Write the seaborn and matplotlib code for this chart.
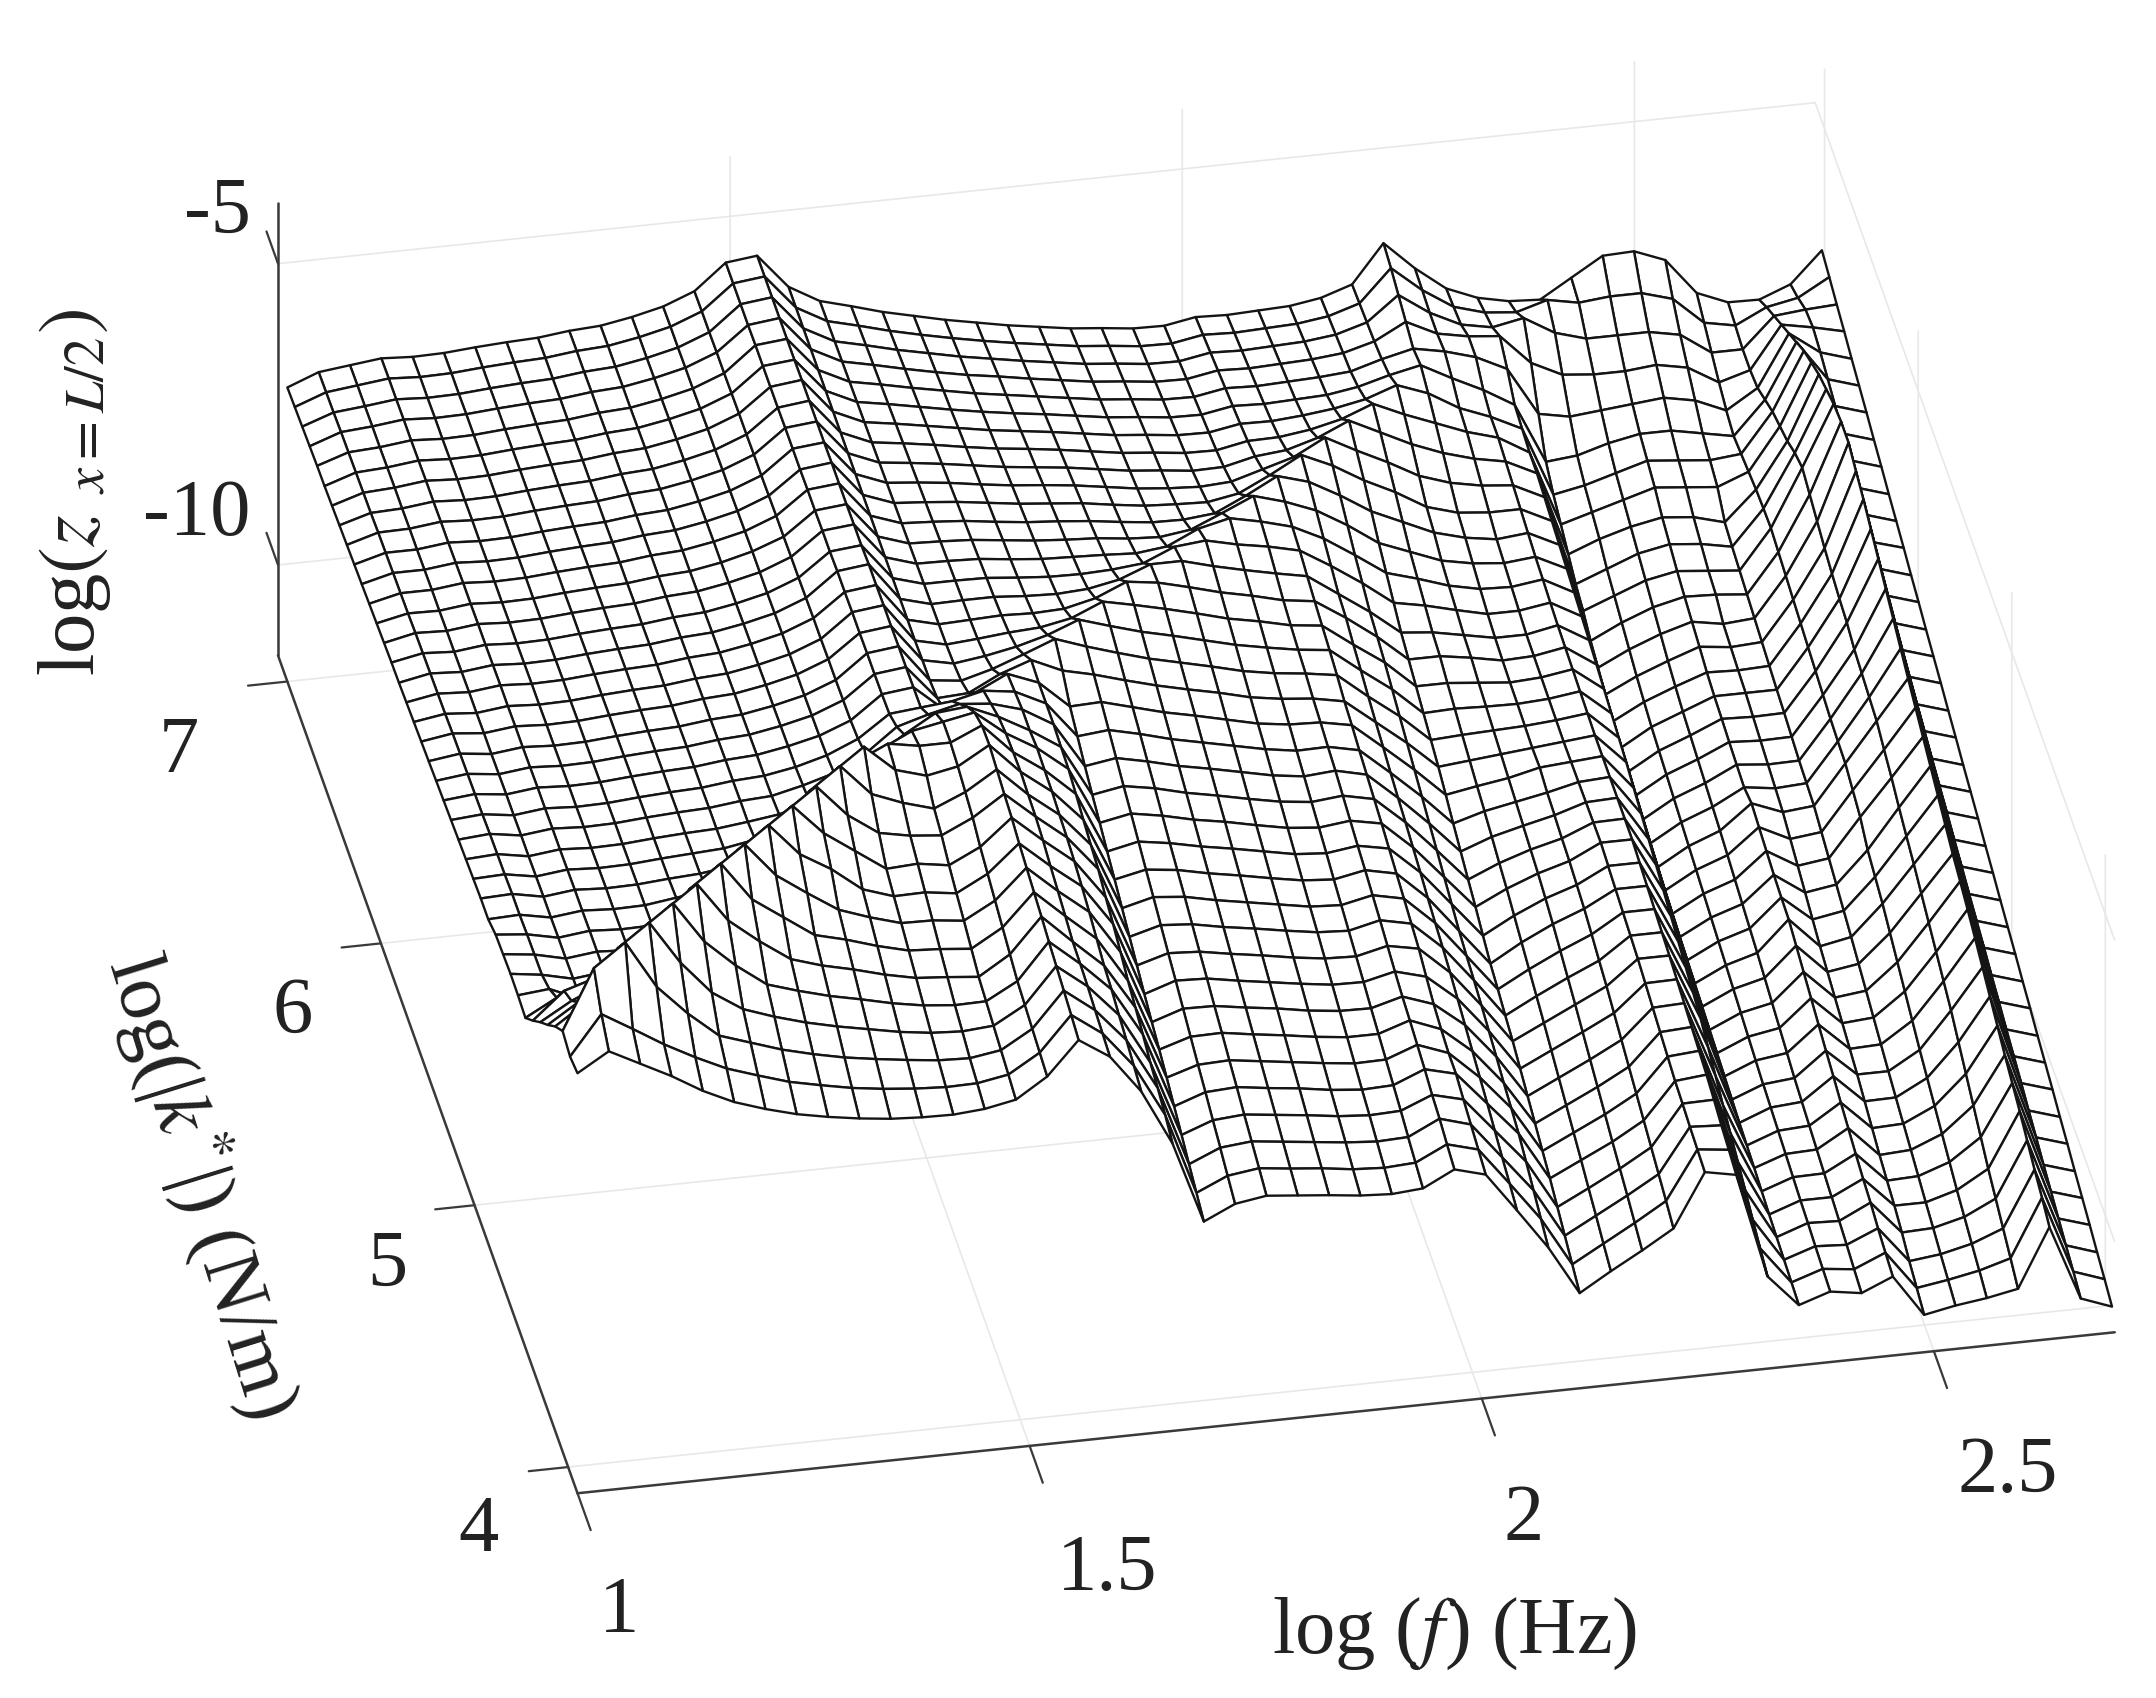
import matplotlib
matplotlib.use('Agg')
import matplotlib.pyplot as plt
import numpy as np
import seaborn as sns
from mpl_toolkits.mplot3d import proj3d

# grid of the surface
log_f = np.linspace(1.0, 2.697, 50)
log_k = np.linspace(7.0, 3.9, 40)

# log(z), one list per row of the mesh, back row first
row_00 = [-6.62,-6.42,-6.36,-6.30,-6.33,-6.32,-6.28,-6.25,-6.23,-6.17,-6.14,-6.05,-5.93,-5.73,-5.31,-5.25,-5.82,-6.11,-6.25,-6.40,-6.52,-6.64,-6.74,-6.84,-6.92,-7.00,-7.05,-7.11,-7.12,-7.03,-7.05,-7.03,-7.01,-6.93,-6.76,-6.13,-6.60,-6.99,-7.20,-7.31,-7.34,-7.03,-6.72,-6.70,-6.90,-7.50,-7.71,-7.72,-7.52,-7.01]
row_01 = [-6.60,-6.41,-6.35,-6.29,-6.32,-6.31,-6.27,-6.24,-6.22,-6.16,-6.13,-6.04,-5.92,-5.72,-5.31,-5.25,-5.82,-6.10,-6.23,-6.37,-6.49,-6.60,-6.70,-6.79,-6.87,-6.95,-7.00,-7.06,-7.07,-6.98,-7.00,-6.98,-6.96,-6.89,-6.73,-6.20,-6.62,-6.95,-7.10,-7.15,-7.00,-7.10,-7.05,-7.05,-7.20,-7.65,-7.75,-7.50,-7.40,-7.11]
row_02 = [-6.58,-6.40,-6.35,-6.29,-6.32,-6.31,-6.27,-6.24,-6.22,-6.16,-6.13,-6.04,-5.92,-5.72,-5.31,-5.25,-5.82,-6.09,-6.21,-6.34,-6.45,-6.56,-6.65,-6.74,-6.82,-6.90,-6.95,-7.01,-7.02,-6.93,-6.95,-6.93,-6.91,-6.85,-6.70,-6.30,-6.65,-6.90,-7.00,-6.90,-7.20,-7.35,-7.35,-7.35,-7.45,-7.80,-7.80,-7.30,-7.25,-7.22]
row_03 = [-6.56,-6.38,-6.34,-6.28,-6.31,-6.30,-6.26,-6.23,-6.21,-6.15,-6.12,-6.03,-5.91,-5.71,-5.31,-5.25,-5.82,-6.08,-6.19,-6.31,-6.42,-6.52,-6.60,-6.69,-6.77,-6.85,-6.90,-6.96,-6.97,-6.88,-6.90,-6.88,-6.86,-6.81,-6.67,-6.40,-6.65,-6.75,-6.80,-7.30,-7.55,-7.60,-7.60,-7.55,-7.65,-7.95,-7.80,-7.10,-7.20,-7.32]
row_04 = [-6.54,-6.37,-6.34,-6.28,-6.31,-6.30,-6.26,-6.23,-6.21,-6.15,-6.12,-6.03,-5.91,-5.71,-5.30,-5.25,-5.82,-6.07,-6.17,-6.28,-6.38,-6.48,-6.56,-6.64,-6.72,-6.80,-6.85,-6.91,-6.92,-6.83,-6.85,-6.83,-6.81,-6.77,-6.62,-6.50,-6.60,-6.75,-7.00,-7.80,-7.90,-7.85,-7.80,-7.75,-7.85,-8.07,-7.75,-6.90,-7.27,-7.43]
row_05 = [-6.53,-6.36,-6.33,-6.27,-6.30,-6.29,-6.25,-6.22,-6.20,-6.14,-6.11,-6.02,-5.90,-5.70,-5.30,-5.25,-5.82,-6.06,-6.15,-6.25,-6.35,-6.44,-6.52,-6.59,-6.67,-6.75,-6.80,-6.86,-6.87,-6.78,-6.80,-6.78,-6.76,-6.68,-6.54,-6.43,-6.70,-6.95,-7.25,-8.25,-8.20,-8.05,-7.95,-7.95,-8.05,-8.15,-7.60,-6.70,-7.37,-7.53]
row_06 = [-6.51,-6.35,-6.32,-6.26,-6.29,-6.28,-6.24,-6.21,-6.19,-6.13,-6.10,-6.01,-5.89,-5.69,-5.30,-5.24,-5.82,-6.05,-6.13,-6.22,-6.31,-6.40,-6.47,-6.54,-6.62,-6.70,-6.75,-6.81,-6.82,-6.73,-6.74,-6.70,-6.64,-6.54,-6.36,-6.55,-6.85,-7.05,-7.30,-8.45,-8.35,-8.20,-8.05,-8.10,-8.15,-8.10,-7.45,-6.50,-7.47,-7.63]
row_07 = [-6.49,-6.34,-6.32,-6.26,-6.29,-6.28,-6.24,-6.21,-6.19,-6.13,-6.10,-6.01,-5.89,-5.69,-5.30,-5.24,-5.82,-6.04,-6.11,-6.19,-6.28,-6.36,-6.42,-6.49,-6.57,-6.65,-6.70,-6.76,-6.77,-6.67,-6.66,-6.59,-6.47,-6.27,-6.50,-6.70,-6.90,-7.05,-7.35,-8.60,-8.45,-8.30,-8.15,-8.20,-8.25,-8.05,-7.35,-6.35,-7.58,-7.74]
row_08 = [-6.47,-6.32,-6.31,-6.25,-6.28,-6.27,-6.23,-6.20,-6.18,-6.12,-6.09,-6.00,-5.88,-5.68,-5.29,-5.24,-5.82,-6.03,-6.09,-6.16,-6.24,-6.32,-6.38,-6.44,-6.52,-6.60,-6.65,-6.71,-6.70,-6.58,-6.53,-6.38,-6.15,-6.40,-6.65,-6.85,-7.00,-7.10,-7.35,-8.75,-8.55,-8.40,-8.30,-8.35,-8.49,-8.00,-7.25,-6.20,-7.68,-7.84]
row_09 = [-6.45,-6.31,-6.31,-6.25,-6.28,-6.27,-6.23,-6.20,-6.18,-6.12,-6.09,-6.00,-5.88,-5.68,-5.29,-5.24,-5.82,-6.02,-6.07,-6.13,-6.21,-6.28,-6.33,-6.39,-6.47,-6.55,-6.60,-6.63,-6.60,-6.45,-6.30,-6.03,-6.30,-6.55,-6.83,-7.00,-7.10,-7.15,-7.40,-8.90,-8.70,-8.50,-8.40,-8.45,-8.55,-7.97,-7.10,-6.10,-7.79,-7.95]
row_10 = [-6.43,-6.30,-6.30,-6.24,-6.27,-6.26,-6.22,-6.19,-6.17,-6.11,-6.08,-5.99,-5.87,-5.67,-5.29,-5.23,-5.82,-6.01,-6.05,-6.10,-6.17,-6.24,-6.29,-6.34,-6.42,-6.49,-6.52,-6.54,-6.45,-6.20,-5.92,-6.15,-6.45,-6.70,-7.00,-7.15,-7.20,-7.20,-7.45,-9.00,-8.80,-8.60,-8.50,-8.55,-8.60,-7.95,-7.00,-6.00,-7.89,-8.05]
row_11 = [-6.41,-6.29,-6.29,-6.23,-6.26,-6.25,-6.21,-6.18,-6.16,-6.10,-6.07,-5.98,-5.86,-5.66,-5.28,-5.23,-5.82,-6.00,-6.03,-6.07,-6.14,-6.20,-6.24,-6.29,-6.36,-6.42,-6.43,-6.38,-6.14,-5.87,-6.02,-6.30,-6.62,-6.85,-7.08,-7.22,-7.30,-7.25,-7.50,-9.15,-8.90,-8.70,-8.58,-8.60,-8.65,-8.00,-7.10,-5.95,-8.00,-8.15]
row_12 = [-6.39,-6.28,-6.29,-6.23,-6.26,-6.25,-6.21,-6.18,-6.16,-6.10,-6.07,-5.98,-5.85,-5.66,-5.28,-5.23,-5.82,-5.99,-6.01,-6.04,-6.10,-6.16,-6.20,-6.23,-6.29,-6.32,-6.25,-6.03,-5.80,-5.95,-6.15,-6.45,-6.80,-7.00,-7.20,-7.30,-7.35,-7.30,-7.55,-9.25,-9.00,-8.80,-8.65,-8.74,-8.70,-8.05,-7.20,-5.95,-8.10,-8.26]
row_13 = [-6.37,-6.26,-6.28,-6.22,-6.25,-6.24,-6.20,-6.17,-6.15,-6.09,-6.06,-5.97,-5.85,-5.65,-5.27,-5.22,-5.82,-5.98,-5.99,-6.01,-6.07,-6.12,-6.14,-6.16,-6.19,-6.13,-5.89,-5.77,-5.88,-6.02,-6.27,-6.60,-6.95,-7.10,-7.27,-7.38,-7.40,-7.33,-7.60,-9.35,-9.10,-8.90,-8.72,-8.78,-8.75,-8.10,-7.30,-6.08,-8.20,-8.36]
row_14 = [-6.35,-6.25,-6.28,-6.22,-6.25,-6.24,-6.20,-6.17,-6.15,-6.09,-6.06,-5.97,-5.85,-5.65,-5.27,-5.22,-5.82,-5.97,-5.97,-5.98,-6.03,-6.07,-6.08,-6.06,-6.01,-5.79,-5.74,-5.86,-5.95,-6.07,-6.38,-6.72,-7.10,-7.20,-7.33,-7.45,-7.45,-7.37,-7.65,-9.45,-9.18,-8.98,-8.80,-8.82,-8.80,-8.15,-7.38,-6.20,-8.31,-8.47]
row_15 = [-6.34,-6.24,-6.27,-6.21,-6.24,-6.23,-6.19,-6.16,-6.14,-6.08,-6.05,-5.96,-5.84,-5.64,-5.25,-5.19,-5.82,-5.96,-5.95,-5.95,-5.99,-6.01,-5.98,-5.88,-5.68,-5.68,-5.82,-5.94,-6.05,-6.15,-6.50,-6.85,-7.25,-7.30,-7.40,-7.50,-7.50,-7.40,-7.70,-9.55,-9.25,-9.05,-8.85,-8.85,-8.85,-8.20,-7.45,-6.35,-8.41,-8.57]
row_16 = [-6.32,-6.23,-6.26,-6.20,-6.23,-6.22,-6.18,-6.15,-6.13,-6.07,-6.04,-5.95,-5.83,-5.63,-5.25,-5.19,-5.82,-5.95,-5.93,-5.91,-5.93,-5.91,-5.79,-5.57,-5.64,-5.77,-5.91,-6.02,-6.15,-6.22,-6.55,-6.92,-7.35,-7.35,-7.43,-7.53,-7.51,-7.42,-7.76,-9.60,-9.30,-9.10,-8.88,-8.90,-8.89,-8.25,-7.50,-6.50,-8.51,-8.67]
row_17 = [-6.30,-6.22,-6.26,-6.20,-6.23,-6.22,-6.18,-6.15,-6.13,-6.07,-6.04,-5.95,-5.83,-5.63,-5.24,-5.18,-5.82,-5.94,-5.90,-5.85,-5.82,-5.72,-5.50,-5.61,-5.73,-5.86,-6.00,-6.10,-6.22,-6.28,-6.65,-7.00,-7.45,-7.45,-7.50,-7.55,-7.52,-7.44,-7.82,-9.65,-9.35,-9.15,-8.92,-8.95,-8.94,-8.30,-7.60,-6.65,-8.62,-8.78]
row_18 = [-6.28,-6.20,-6.25,-6.19,-6.22,-6.21,-6.17,-6.14,-6.12,-6.06,-6.03,-5.94,-5.82,-5.62,-5.24,-5.18,-5.80,-5.91,-5.84,-5.74,-5.60,-5.40,-5.56,-5.71,-5.83,-5.96,-6.09,-6.19,-6.28,-6.34,-6.73,-7.10,-7.55,-7.53,-7.55,-7.56,-7.53,-7.46,-7.88,-9.70,-9.40,-9.20,-8.95,-9.00,-8.99,-8.35,-7.65,-6.80,-8.72,-8.88]
row_19 = [-6.26,-6.19,-6.25,-6.19,-6.22,-6.21,-6.17,-6.14,-6.12,-6.06,-6.03,-5.94,-5.82,-5.62,-5.23,-5.17,-5.79,-5.85,-5.71,-5.52,-5.32,-5.50,-5.66,-5.81,-5.93,-6.05,-6.18,-6.27,-6.33,-6.41,-6.82,-7.20,-7.65,-7.62,-7.60,-7.58,-7.54,-7.48,-7.94,-9.75,-9.45,-9.25,-8.98,-9.05,-9.02,-8.38,-7.70,-6.95,-8.83,-8.99]
row_20 = [-6.24,-6.18,-6.24,-6.18,-6.21,-6.20,-6.16,-6.13,-6.11,-6.05,-6.02,-5.93,-5.81,-5.61,-5.23,-5.17,-5.74,-5.71,-5.45,-5.27,-5.50,-5.62,-5.77,-5.91,-6.03,-6.14,-6.27,-6.35,-6.40,-6.50,-6.90,-7.30,-7.75,-7.70,-7.65,-7.60,-7.55,-7.50,-8.00,-9.80,-9.50,-9.30,-8.90,-9.10,-9.05,-8.40,-7.75,-7.10,-8.93,-9.09]
row_21 = [-6.22,-6.17,-6.23,-6.17,-6.20,-6.19,-6.15,-6.12,-6.10,-6.04,-6.01,-5.92,-5.80,-5.60,-5.22,-5.16,-5.59,-5.35,-5.10,-5.30,-5.75,-5.73,-5.87,-6.01,-6.12,-6.24,-6.36,-6.43,-6.45,-6.55,-6.97,-7.40,-7.87,-7.78,-7.70,-7.58,-7.54,-7.50,-8.08,-9.84,-9.55,-9.36,-8.95,-9.20,-9.14,-8.50,-7.88,-7.24,-9.03,-9.19]
row_22 = [-6.20,-6.16,-6.23,-6.17,-6.20,-6.19,-6.15,-6.12,-6.10,-6.04,-6.01,-5.92,-5.78,-5.56,-5.20,-5.15,-5.10,-4.98,-5.05,-5.30,-5.90,-5.85,-5.97,-6.11,-6.22,-6.33,-6.44,-6.52,-6.51,-6.62,-7.05,-7.50,-8.00,-7.85,-7.75,-7.65,-7.53,-7.50,-8.16,-9.88,-9.60,-9.42,-9.00,-9.30,-9.23,-8.60,-8.00,-7.38,-9.14,-9.30]
row_23 = [-6.18,-6.14,-6.22,-6.16,-6.19,-6.18,-6.14,-6.11,-6.09,-6.03,-6.00,-5.88,-5.73,-5.46,-5.07,-4.92,-4.80,-4.85,-5.00,-5.30,-6.05,-5.97,-6.08,-6.21,-6.31,-6.42,-6.53,-6.60,-6.56,-6.68,-7.12,-7.60,-8.12,-7.93,-7.80,-7.68,-7.52,-7.50,-8.24,-9.92,-9.65,-9.48,-9.05,-9.40,-9.32,-8.80,-8.15,-7.52,-9.24,-9.40]
row_24 = [-6.16,-6.13,-6.22,-6.16,-6.19,-6.18,-6.14,-6.11,-6.09,-6.03,-5.96,-5.82,-5.60,-5.21,-4.85,-4.55,-4.50,-4.72,-5.00,-5.33,-6.18,-6.09,-6.18,-6.31,-6.41,-6.52,-6.62,-6.68,-6.63,-6.74,-7.18,-7.70,-8.24,-8.02,-7.85,-7.72,-7.51,-7.50,-8.32,-9.96,-9.70,-9.54,-9.08,-9.50,-9.41,-8.90,-8.28,-7.66,-9.35,-9.51]
row_25 = [-6.14,-6.12,-6.21,-6.15,-6.18,-6.17,-6.13,-6.10,-6.07,-5.98,-5.87,-5.62,-5.22,-4.70,-4.45,-4.35,-4.25,-4.65,-4.95,-5.35,-6.30,-6.20,-6.29,-6.41,-6.50,-6.61,-6.71,-6.76,-6.70,-6.80,-7.25,-7.80,-8.35,-8.10,-7.90,-7.75,-7.50,-7.50,-8.40,-10.00,-9.75,-9.60,-9.10,-9.60,-9.50,-9.00,-8.40,-7.80,-9.45,-9.61]
row_26 = [-6.12,-6.10,-6.20,-6.14,-6.17,-6.16,-6.12,-6.09,-6.02,-5.86,-5.63,-5.18,-4.50,-4.26,-4.35,-4.35,-4.12,-4.62,-4.97,-5.42,-6.43,-6.32,-6.40,-6.51,-6.60,-6.70,-6.80,-6.84,-6.77,-6.87,-7.32,-7.90,-8.48,-8.20,-7.97,-7.80,-7.54,-7.54,-8.48,-10.04,-9.80,-9.67,-9.19,-9.68,-9.60,-9.14,-8.54,-7.94,-9.55,-9.71]
row_27 = [-6.12,-6.10,-6.20,-6.14,-6.17,-6.16,-6.09,-6.02,-5.89,-5.59,-5.07,-4.28,-3.91,-4.35,-4.50,-4.40,-4.10,-4.60,-4.98,-5.50,-6.55,-6.44,-6.50,-6.61,-6.70,-6.80,-6.89,-6.93,-6.83,-6.94,-7.40,-8.00,-8.60,-8.30,-8.05,-7.85,-7.58,-7.58,-8.56,-10.08,-9.85,-9.74,-9.28,-9.76,-9.70,-9.28,-8.68,-8.05,-9.66,-9.82]
row_28 = [-6.03,-6.08,-6.19,-6.13,-6.16,-6.15,-6.06,-5.93,-5.72,-5.18,-4.20,-3.83,-4.35,-4.55,-4.70,-4.48,-4.16,-4.63,-5.02,-5.57,-6.68,-6.55,-6.60,-6.71,-6.80,-6.89,-6.98,-7.01,-6.90,-7.01,-7.47,-8.07,-8.68,-8.40,-8.15,-7.93,-7.62,-7.62,-8.64,-10.12,-9.90,-9.81,-9.37,-9.84,-9.80,-9.42,-8.82,-8.17,-9.76,-9.92]
row_29 = [-6.01,-6.07,-6.19,-6.13,-6.16,-6.09,-5.98,-5.76,-5.36,-4.14,-3.77,-4.30,-4.65,-4.75,-4.80,-4.56,-4.22,-4.65,-5.05,-5.63,-6.81,-6.67,-6.71,-6.81,-6.89,-6.98,-7.06,-7.09,-6.97,-7.08,-7.53,-8.13,-8.77,-8.50,-8.25,-8.02,-7.66,-7.66,-8.72,-10.16,-9.95,-9.88,-9.46,-9.92,-9.90,-9.56,-8.96,-8.30,-9.87,-10.03]
row_30 = [-5.99,-6.06,-6.18,-6.12,-6.09,-6.02,-5.79,-5.40,-4.06,-3.69,-4.20,-4.55,-4.90,-4.87,-4.95,-4.70,-4.27,-4.70,-5.10,-5.75,-6.94,-6.79,-6.82,-6.91,-6.99,-7.08,-7.15,-7.17,-7.05,-7.15,-7.60,-8.20,-8.85,-8.60,-8.35,-8.10,-7.70,-7.70,-8.80,-10.20,-10.00,-9.95,-9.55,-10.00,-10.00,-9.70,-9.10,-8.44,-9.97,-10.13]
row_31 = [-6.00,-5.95,-6.17,-6.05,-6.00,-5.77,-5.27,-3.98,-3.61,-4.15,-4.45,-4.84,-5.01,-5.00,-5.07,-4.80,-4.35,-4.78,-5.17,-5.85,-7.07,-6.90,-6.92,-7.01,-7.09,-7.17,-7.24,-7.25,-7.13,-7.27,-7.69,-8.28,-8.96,-8.71,-8.46,-8.20,-7.76,-7.75,-8.93,-10.24,-10.04,-10.00,-9.63,-10.10,-10.09,-9.82,-9.28,-8.58,-10.07,-10.23]
row_32 = [-6.03,-5.75,-5.90,-5.97,-5.77,-5.28,-3.90,-3.53,-4.10,-4.45,-4.78,-4.96,-5.11,-5.12,-5.18,-4.90,-4.41,-4.85,-5.25,-5.97,-7.19,-7.02,-7.03,-7.11,-7.18,-7.27,-7.33,-7.34,-7.20,-7.38,-7.78,-8.36,-9.07,-8.82,-8.57,-8.30,-7.82,-7.80,-9.06,-10.27,-10.08,-10.05,-9.72,-10.20,-10.18,-9.94,-9.46,-8.72,-10.18,-10.34]
row_33 = [-5.73,-5.29,-5.13,-4.80,-4.47,-3.82,-3.45,-4.10,-4.45,-4.80,-4.93,-5.09,-5.22,-5.25,-5.30,-5.00,-4.47,-4.92,-5.35,-6.10,-7.30,-7.14,-7.13,-7.21,-7.28,-7.36,-7.42,-7.42,-7.25,-7.45,-7.87,-8.45,-9.18,-8.93,-8.68,-8.40,-7.88,-7.85,-9.20,-10.30,-10.12,-10.10,-9.80,-10.30,-10.27,-10.06,-9.64,-8.86,-10.28,-10.44]
row_34 = [-5.41,-5.11,-4.89,-4.53,-3.76,-3.39,-4.05,-4.45,-4.80,-4.96,-5.08,-5.22,-5.33,-5.37,-5.42,-5.10,-4.53,-5.00,-5.45,-6.20,-7.42,-7.26,-7.24,-7.31,-7.38,-7.45,-7.51,-7.50,-7.31,-7.50,-7.96,-8.52,-9.29,-9.04,-8.79,-8.50,-7.94,-7.90,-9.32,-10.34,-10.16,-10.15,-9.88,-10.38,-10.36,-10.18,-9.82,-8.98,-10.39,-10.55]
row_35 = [-5.11,-4.78,-4.47,-3.68,-3.31,-4.00,-4.45,-4.82,-4.98,-5.12,-5.23,-5.35,-5.44,-5.49,-5.48,-5.20,-4.60,-5.02,-5.50,-6.30,-7.55,-7.37,-7.34,-7.41,-7.47,-7.55,-7.60,-7.58,-7.37,-7.50,-8.05,-8.60,-9.40,-9.15,-8.90,-8.60,-8.00,-7.95,-9.45,-10.38,-10.20,-10.20,-9.95,-10.45,-10.45,-10.30,-10.00,-9.10,-10.49,-10.65]
row_36 = [-4.79,-4.44,-3.60,-3.23,-3.95,-4.50,-4.83,-5.01,-5.16,-5.28,-5.38,-5.48,-5.55,-5.58,-5.54,-5.25,-4.66,-5.05,-5.58,-6.42,-7.68,-7.49,-7.45,-7.51,-7.57,-7.64,-7.68,-7.66,-7.45,-7.58,-8.15,-8.72,-9.53,-9.27,-9.00,-8.70,-8.03,-8.02,-9.58,-10.41,-10.23,-10.25,-10.00,-10.55,-10.53,-10.40,-10.15,-9.24,-10.59,-10.75]
row_37 = [-4.52,-3.53,-3.16,-3.95,-4.45,-4.87,-5.04,-5.21,-5.34,-5.45,-5.53,-5.60,-5.66,-5.68,-5.60,-5.30,-4.72,-5.10,-5.65,-6.50,-7.82,-7.60,-7.55,-7.61,-7.67,-7.73,-7.77,-7.75,-7.50,-7.65,-8.25,-8.85,-9.66,-9.38,-9.10,-8.80,-8.07,-8.10,-9.72,-10.44,-10.27,-10.30,-10.08,-10.68,-10.62,-10.50,-10.30,-9.38,-10.69,-10.86]
row_38 = [-4.60,-3.95,-4.25,-4.56,-4.83,-5.07,-5.24,-5.40,-5.51,-5.61,-5.68,-5.73,-5.76,-5.75,-5.66,-5.35,-4.78,-5.14,-5.73,-6.60,-7.95,-7.72,-7.65,-7.71,-7.76,-7.83,-7.86,-7.83,-7.58,-7.72,-8.34,-8.98,-9.79,-9.50,-9.21,-8.90,-8.10,-8.16,-9.85,-10.47,-10.30,-10.36,-10.14,-10.78,-10.70,-10.60,-10.45,-9.50,-10.78,-10.96]
row_39 = [-4.53,-4.22,-4.48,-4.74,-5.04,-5.28,-5.45,-5.59,-5.69,-5.77,-5.83,-5.86,-5.87,-5.83,-5.73,-5.40,-4.85,-5.18,-5.81,-6.73,-8.08,-7.84,-7.76,-7.81,-7.86,-7.92,-7.95,-7.91,-7.65,-7.79,-8.44,-9.11,-9.92,-9.61,-9.32,-9.01,-8.13,-8.23,-9.97,-10.50,-10.33,-10.41,-10.19,-10.88,-10.78,-10.71,-10.61,-9.64,-10.88,-11.07]

x_ticks = [1, 1.5, 2, 2.5]
y_ticks = [4, 5, 6, 7]
z_ticks = [-10, -5]
x_tick_labels = ['1', '1.5', '2', '2.5']
y_tick_labels = ['4', '5', '6', '7']
z_tick_labels = ['-10', '-5']

z_grid = np.array([row_00, row_01, row_02, row_03, row_04, row_05, row_06, row_07, row_08, row_09,
                   row_10, row_11, row_12, row_13, row_14, row_15, row_16, row_17, row_18, row_19,
                   row_20, row_21, row_22, row_23, row_24, row_25, row_26, row_27, row_28, row_29,
                   row_30, row_31, row_32, row_33, row_34, row_35, row_36, row_37, row_38, row_39])

sns.set_theme(style='white')
plt.rcParams['font.family'] = ['Liberation Serif', 'DejaVu Serif']
plt.rcParams['mathtext.fontset'] = 'stix'

W, H = 2156, 1698
fig = plt.figure(figsize=(W / 200, H / 200), dpi=200, facecolor='white')
side = 1400
ax = fig.add_axes([0.5 - side / W / 2, 0.5 - side / H / 2, side / W, side / H], projection='3d')
ax.set_proj_type('ortho')
ax.view_init(elev=32.77, azim=-100.95)
ax.set_box_aspect((1139, 1147, 391))
ax.set_xlim(1, 2.7)
ax.set_ylim(3.9, 7.1)
ax.set_zlim(-11.5, -4)

F, K = np.meshgrid(log_f, log_k)
ax.plot_surface(F, K, z_grid, rstride=1, cstride=1, color='white', edgecolor='#141414',
                linewidth=0.85, shade=False, antialiased=True)

ax.set_xticks(x_ticks)
ax.set_yticks(y_ticks)
ax.set_zticks(z_ticks)
ax.set_xticklabels([''] * 4)
ax.set_yticklabels([''] * 4)
ax.set_zticklabels([''] * 2)
ax.zaxis.set_ticks_position('upper')
# z ticks run along the k direction in the picture
ax.zaxis._get_tickdir = lambda pos: 1

for axis, t_in, t_out in zip([ax.xaxis, ax.yaxis, ax.zaxis], [0.55, 0.32, 0], [0, 0, 0.48]):
    axis.set_pane_color((1, 1, 1, 0))
    axis.pane.set_edgecolor('#e8e8e8')
    axis.line.set_color('#3a3a3a')
    axis.line.set_linewidth(0.9)
    axis._axinfo['grid'].update(color='#e8e8e8', linewidth=0.6)
    axis._axinfo['tick'].update(inward_factor=t_in, outward_factor=t_out, linewidth={True: 0.8, False: 0.8})
ax.tick_params(colors='#3a3a3a')
ax.grid(True)

# fit the floor corners onto where they sit in the picture
fig.canvas.draw()
def to_px(x, y, z):
    u, v, _ = proj3d.proj_transform(x, y, z, ax.get_proj())
    return ax.transData.transform((u, v))
d_a = to_px(1, 3.9, -11.5)
d_b = to_px(2.7, 3.9, -11.5)
t_a = np.array([420 * 1.375, H - 1086 * 1.375])
t_b = np.array([1538 * 1.375, H - 969 * 1.375])
scale = np.linalg.norm(t_b - t_a) / np.linalg.norm(d_b - d_a)
centre = np.array([W / 2, H / 2])
new_centre = t_a - scale * (d_a - centre)
new_side = side * scale
ax.set_position([(new_centre[0] - new_side / 2) / W, (new_centre[1] - new_side / 2) / H,
                 new_side / W, new_side / H])


def put(x, y, s, **kw):
    fig.text(x * 1.375 / W, 1 - y * 1.375 / H, s, ha='center', va='center', fontsize=29,
             color='#222222', **kw)


for s, pos in zip(x_tick_labels, [(450, 1173), (805, 1142), (1108, 1106), (1460, 1071)]):
    put(pos[0], pos[1], s)
for s, pos in zip(y_tick_labels, [(348, 1114), (282, 921), (213, 737), (130, 547)]):
    put(pos[0], pos[1], s)
for s, pos in zip(z_tick_labels, [(143, 375), (158, 155)]):
    put(pos[0], pos[1], s)

put(1058, 1188, r'log ($\mathit{f}$) (Hz)')
put(54, 358, r'log$\left(z_{\;\;x=L/2}\right)$', rotation=90)
put(148, 862, r'log(|$k^{*}$|) (N/m)', rotation=-72.7, rotation_mode='anchor')

fig.savefig('out.png', dpi=200, facecolor='white')
